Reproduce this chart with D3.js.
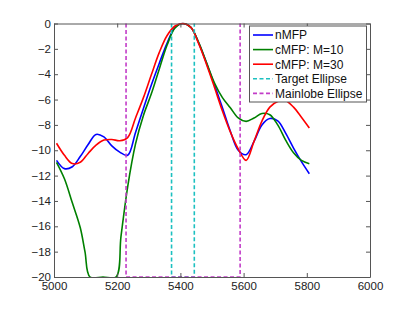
<!DOCTYPE html>
<html>
<head>
<meta charset="utf-8">
<script src="https://cdn.jsdelivr.net/npm/d3@7"></script>
<style>
  body { margin: 0; background: #fff; }
  text { font-family: "Liberation Sans", Arial, sans-serif; }
</style>
</head>
<body>
<svg id="chart" width="409" height="312"></svg>
<script>
// frequency grid shared by nMFP and cMFP M=30
const freq = [5008, 5033, 5058, 5083, 5108, 5133, 5158, 5183, 5208, 5233, 5258,
  5283, 5308, 5333, 5358, 5383, 5408, 5433, 5458, 5483, 5508, 5533, 5558,
  5583, 5608, 5633, 5658, 5683, 5708, 5733, 5758, 5783, 5808]

const nMFP = [-10.8, -11.45, -11.3, -10.5, -9.55, -8.75, -8.95, -9.65, -10.15, -10.4, -8.6,
  -6.7, -4.85, -3.15, -1.55, -0.3, 0, -0.3, -1.55, -3.15, -4.85, -6.65, -8.5,
  -10.0, -10.35, -9.3, -8.0, -7.5, -7.68, -8.65, -9.83, -10.9, -11.85]

const cMFP30 = [-9.45, -10.4, -11.05, -10.95, -10.25, -9.6, -9.2, -9.15, -9.25, -9.0, -7.45,
  -5.85, -4.05, -2.3, -0.95, -0.2, 0, -0.3, -1.6, -3.25, -5.05, -6.9, -8.55,
  -9.9, -10.8, -9.3, -7.7, -6.6, -6.15, -6.1, -6.6, -7.4, -8.25]

// cMFP M=10 has its own grid (floored at -20 dB)
const freq10 = [5008, 5033, 5058, 5083, 5098, 5114, 5155, 5196, 5212, 5233, 5258,
  5283, 5308, 5333, 5358, 5383, 5408, 5433, 5458, 5483, 5508, 5533, 5558,
  5583, 5608, 5633, 5658, 5683, 5708, 5733, 5758, 5783, 5808]

const cMFP10 = [-10.95, -12.25, -14.15, -16.1, -18, -20, -20, -20, -16.8, -12.9, -9.5,
  -7.25, -5.55, -3.6, -1.7, -0.35, 0, -0.3, -1.5, -3.1, -4.7, -5.85, -6.65,
  -7.45, -7.72, -7.45, -7.1, -7.2, -8.0, -9.2, -10.2, -10.8, -11.06]

// ellipse bounds, drawn as dashed outlines
const targetX = [5372, 5372, 5444, 5444]
const targetY = [0, -20, -20, 0]
const mainlobeX = [5228, 5228, 5589, 5589]
const mainlobeY = [0, -20, -20, 0]

const xTicks = [5000, 5200, 5400, 5600, 5800, 6000]
const yTicks = [-20, -18, -16, -14, -12, -10, -8, -6, -4, -2, 0]

const legendLabels = ['nMFP', 'cMFP: M=10', 'cMFP: M=30', 'Target Ellipse', 'Mainlobe Ellipse']

const mLeft = 54, mRight = 370, mTop = 23.5, mBottom = 277

let svg = d3.select('#chart')

let x = d3.scaleLinear().domain([5000, 6000]).range([mLeft, mRight])
let y = d3.scaleLinear().domain([-20, 0]).range([mBottom, mTop])

svg.append('clipPath').attr('id', 'clip')
  .append('rect')
  .attr('x', mLeft).attr('y', mTop - 1)
  .attr('width', mRight - mLeft).attr('height', mBottom - mTop + 2)

let line = d3.line()
  .x(d => x(d[0]))
  .y(d => y(d[1]))
  .curve(d3.curveCatmullRom)

let straight = d3.line()
  .x(d => x(d[0]))
  .y(d => y(d[1]))

let plot = svg.append('g').attr('clip-path', 'url(#clip)')

let series = [
  { xs: freq, ys: nMFP, color: '#0000ff' },
  { xs: freq10, ys: cMFP10, color: '#008000' },
  { xs: freq, ys: cMFP30, color: '#ff0000' }
]

series.forEach(s => {
  plot.append('path')
    .attr('d', line(d3.zip(s.xs, s.ys)))
    .attr('fill', 'none')
    .attr('stroke', s.color)
    .attr('stroke-width', 1.6)
})

let dashed = [
  { xs: targetX, ys: targetY, color: '#1cc0c0' },
  { xs: mainlobeX, ys: mainlobeY, color: '#c23cc8' }
]

dashed.forEach(s => {
  plot.append('path')
    .attr('d', straight(d3.zip(s.xs, s.ys)))
    .attr('fill', 'none')
    .attr('stroke', s.color)
    .attr('stroke-width', 1.6)
    .attr('stroke-dasharray', '4,2.5')
})

// axes with inward ticks on all four sides
let axisColor = '#555'
let fmt = d3.format('d')

let gx = svg.append('g').attr('transform', `translate(0,${mBottom})`)
  .call(d3.axisBottom(x).tickValues(xTicks).tickFormat(fmt).tickSizeInner(-4).tickSizeOuter(0).tickPadding(5))
let gxTop = svg.append('g').attr('transform', `translate(0,${mTop})`)
  .call(d3.axisTop(x).tickValues(xTicks).tickSizeInner(-4).tickSizeOuter(0).tickFormat(''))
let gy = svg.append('g').attr('transform', `translate(${mLeft},0)`)
  .call(d3.axisLeft(y).tickValues(yTicks).tickFormat(fmt).tickSizeInner(-4).tickSizeOuter(0).tickPadding(3))
let gyRight = svg.append('g').attr('transform', `translate(${mRight},0)`)
  .call(d3.axisRight(y).tickValues(yTicks).tickSizeInner(-4).tickSizeOuter(0).tickFormat(''))

;[gx, gxTop, gy, gyRight].forEach(g => {
  g.selectAll('path, line').attr('stroke', axisColor)
  g.selectAll('text').attr('fill', '#222').style('font-size', '11.5px')
})

// legend
let legend = svg.append('g')
legend.append('rect')
  .attr('x', 249.5).attr('y', 26)
  .attr('width', 117).attr('height', 76)
  .attr('fill', '#fff')
  .attr('stroke', axisColor)

let legendColors = ['#0000ff', '#008000', '#ff0000', '#1cc0c0', '#c23cc8']

legendLabels.forEach((label, i) => {
  let cy = 35 + i * 14.6
  legend.append('line')
    .attr('x1', 253).attr('x2', 273)
    .attr('y1', cy).attr('y2', cy)
    .attr('stroke', legendColors[i])
    .attr('stroke-width', 1.6)
    .attr('stroke-dasharray', i > 2 ? '4,2.5' : null)
  legend.append('text')
    .attr('x', 275).attr('y', cy)
    .attr('dy', '0.36em')
    .style('font-size', '12px')
    .attr('fill', '#111')
    .text(label)
})
</script>
</body>
</html>
